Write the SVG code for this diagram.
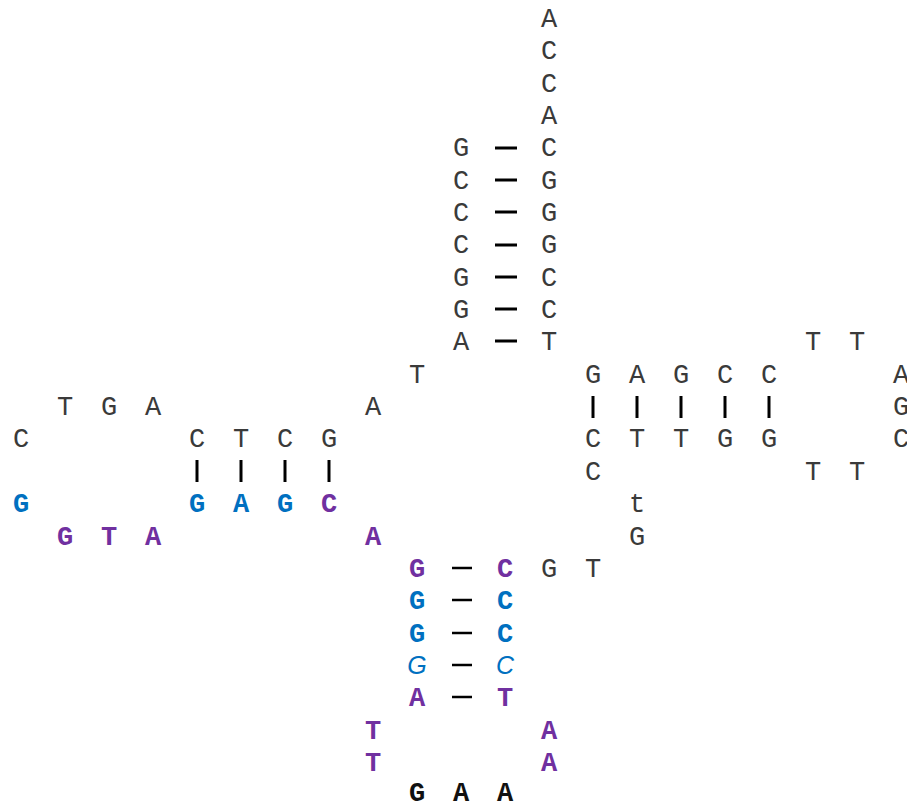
<svg xmlns="http://www.w3.org/2000/svg" width="907" height="803" viewBox="0 0 907 803">
  <style>
    text { font-family: "Liberation Mono", "DejaVu Sans Mono", monospace; font-size: 27px; text-anchor: middle; }
    .n { fill: #3a3a3a; }
    .p { fill: #7030a0; font-weight: bold; }
    .b { fill: #0070c0; font-weight: bold; }
    .bi { fill: #0070c0; font-style: italic; font-family: "Liberation Sans", Arial, sans-serif; font-size: 25px; }
    .k { fill: #111111; font-weight: bold; }
    .bond { stroke: #000000; stroke-width: 3; stroke-linecap: butt; }
    .bond-thin { stroke: #000000; stroke-width: 2.5; }
  </style>
  <rect width="907" height="803" fill="#ffffff"/>

  <!-- acceptor stem with 3' CCA end -->
  <g id="acceptor-stem">
    <text class="n" x="549" y="27">A</text>
    <text class="n" x="549" y="59">C</text>
    <text class="n" x="549" y="92">C</text>
    <text class="n" x="549" y="124">A</text>
    <text class="n" x="461 549" y="156">GC</text>
    <text class="n" x="461 549" y="189">CG</text>
    <text class="n" x="461 549" y="221">CG</text>
    <text class="n" x="461 549" y="253">CG</text>
    <text class="n" x="461 549" y="286">GC</text>
    <text class="n" x="461 549" y="318">GC</text>
    <text class="n" x="461 549" y="350">AT</text>
  </g>

  <!-- linker between acceptor and D arm -->
  <g id="linker-5">
    <text class="n" x="417" y="383">T</text>
    <text class="n" x="373" y="415">A</text>
  </g>

  <!-- D arm -->
  <g id="d-arm">
    <text class="n" x="65 109 153" y="415">TGA</text>
    <text class="n" x="21" y="447">C</text>
    <text class="n" x="197 241 285 329" y="447">CTCG</text>
    <text class="b" x="21" y="512">G</text>
    <text class="b" x="197 241 285" y="512">GAG</text>
    <text class="p" x="329" y="512">C</text>
    <text class="p" x="65 109 153" y="545">GTA</text>
    <text class="p" x="373" y="545">A</text>
  </g>

  <!-- anticodon arm -->
  <g id="anticodon-arm">
    <text class="p" x="417 505" y="577">GC</text>
    <text class="b" x="417 505" y="609">GC</text>
    <text class="b" x="417 505" y="642">GC</text>
    <text class="bi" x="417 505" y="674">GC</text>
    <text class="p" x="417 505" y="706">AT</text>
    <text class="p" x="373 549" y="739">TA</text>
    <text class="p" x="373 549" y="771">TA</text>
    <text class="k" x="417 461 505" y="801">GAA</text>
  </g>

  <!-- variable loop -->
  <g id="variable-loop">
    <text class="n" x="549 593" y="577">GT</text>
    <text class="n" x="637" y="545">G</text>
    <text class="n" x="637" y="512">t</text>
    <text class="n" x="593" y="480">C</text>
  </g>

  <!-- T arm -->
  <g id="t-arm">
    <text class="n" x="593 637 681 725 769" y="383">GAGCC</text>
    <text class="n" x="593 637 681 725 769" y="447">CTTGG</text>
    <text class="n" x="813 857" y="350">TT</text>
    <text class="n" x="813 857" y="480">TT</text>
    <text class="n" x="901" y="383">A</text>
    <text class="n" x="901" y="415">G</text>
    <text class="n" x="901" y="447">C</text>
  </g>

  <!-- base-pair bonds -->
  <g id="connectors">
    <g class="bond">
      <line x1="495" y1="148" x2="517" y2="148"/>
      <line x1="495" y1="180" x2="517" y2="180"/>
      <line x1="495" y1="212" x2="517" y2="212"/>
      <line x1="495" y1="245" x2="517" y2="245"/>
      <line x1="495" y1="277" x2="517" y2="277"/>
      <line x1="495" y1="309" x2="517" y2="309"/>
      <line x1="495" y1="341" x2="517" y2="341"/>

      <line x1="197" y1="460" x2="197" y2="482"/>
      <line x1="241" y1="460" x2="241" y2="482"/>
      <line x1="285" y1="460" x2="285" y2="482"/>
      <line x1="329" y1="460" x2="329" y2="482"/>

      <line x1="593" y1="396" x2="593" y2="418"/>
      <line x1="637" y1="396" x2="637" y2="418"/>
      <line x1="681" y1="396" x2="681" y2="418"/>
      <line x1="725" y1="396" x2="725" y2="418"/>
      <line x1="769" y1="396" x2="769" y2="418"/>
    </g>
    <g class="bond-thin">
      <line x1="452" y1="568" x2="472" y2="568"/>
      <line x1="452" y1="600" x2="472" y2="600"/>
      <line x1="452" y1="633" x2="472" y2="633"/>
      <line x1="452" y1="665" x2="472" y2="665"/>
      <line x1="452" y1="697" x2="472" y2="697"/>
    </g>
  </g>
</svg>
